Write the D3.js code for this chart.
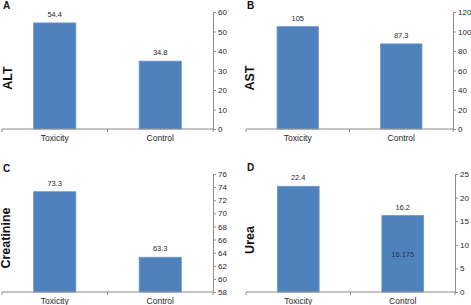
<!DOCTYPE html>
<html>
<head>
<meta charset="utf-8">
<script src="https://cdn.jsdelivr.net/npm/d3@7"></script>
<style>
  body { margin: 0; background: #fff; }
  svg { display: block; font-family: "Liberation Sans", Arial, sans-serif; }
</style>
</head>
<body>
<div id="chart"></div>
<script>
// data
const categories = ["Toxicity", "Control"];
const panelLetters = ["A", "B", "C", "D"];
const panelTitles = ["ALT", "AST", "Creatinine", "Urea"];
const altValues = [54.4, 34.8];
const astValues = [105, 87.3];
const creatinineValues = [73.3, 63.3];
const ureaValues = [22.4, 16.2];
const yDomains = [[0, 60], [0, 120], [58, 76], [0, 25]];
const yTickSteps = [10, 20, 2, 5];
const extraLabel = { panel: 3, category: "Control", value: 16.175, text: "16.175" };

const width = 471, height = 305;
const color = "#4f81bd";
const axisColor = "#8c8c8c";
const textColor = "#262626";

// panel boxes: left of x axis, right axis position, top tick, bottom axis
const boxes = [
  { x0: 2, x1: 213, top: 12, bottom: 129, lx: 3, ly: 9, tx: 12, ty: 78 },
  { x0: 246, x1: 453, top: 12, bottom: 129, lx: 247, ly: 9, tx: 254, ty: 78 },
  { x0: 2, x1: 213, top: 174, bottom: 292, lx: 3, ly: 172, tx: 10, ty: 238 },
  { x0: 246, x1: 455, top: 174, bottom: 292, lx: 247, ly: 171, tx: 254, ty: 240 }
];
const allValues = [altValues, astValues, creatinineValues, ureaValues];

const svg = d3.select("#chart")
  .append("svg")
  .attr("width", width)
  .attr("height", height);

boxes.forEach((b, i) => {
  const values = allValues[i];
  const data = categories.map((c, j) => ({ cat: c, value: values[j] }));

  const x = d3.scaleBand()
    .domain(categories)
    .range([b.x0, b.x1])
    .paddingInner(0.6)
    .paddingOuter(0.3);

  const y = d3.scaleLinear()
    .domain(yDomains[i])
    .range([b.bottom, b.top]);

  const g = svg.append("g");

  // bars
  g.selectAll("rect")
    .data(data)
    .join("rect")
    .attr("x", d => x(d.cat))
    .attr("y", d => y(d.value))
    .attr("width", x.bandwidth())
    .attr("height", d => y(yDomains[i][0]) - y(d.value))
    .attr("fill", color)
    .attr("stroke", "#6d97c9")
    .attr("stroke-width", 0.8);

  // value labels
  g.selectAll("text.val")
    .data(data)
    .join("text")
    .attr("class", "val")
    .attr("x", d => x(d.cat) + x.bandwidth() / 2)
    .attr("y", d => y(d.value) - 6)
    .attr("text-anchor", "middle")
    .attr("font-size", 7.5)
    .attr("fill", textColor)
    .text(d => d.value);

  // right axis
  const [lo, hi] = yDomains[i];
  const tickVals = d3.range(lo, hi + yTickSteps[i] / 2, yTickSteps[i]);
  const yAxis = g.append("g")
    .attr("transform", `translate(${b.x1},0)`)
    .call(d3.axisRight(y).tickValues(tickVals).tickSize(3).tickSizeOuter(0).tickPadding(2));
  yAxis.select(".domain").attr("stroke", axisColor);
  yAxis.selectAll(".tick line").attr("stroke", axisColor);
  yAxis.selectAll(".tick text")
    .attr("font-size", 8)
    .attr("fill", textColor)
    .attr("font-family", "Liberation Sans, Arial, sans-serif");

  // x axis line with category boundary ticks
  g.append("line")
    .attr("x1", b.x0).attr("x2", b.x1)
    .attr("y1", b.bottom).attr("y2", b.bottom)
    .attr("stroke", axisColor);
  const bounds = d3.range(categories.length + 1).map(k => b.x0 + k * (b.x1 - b.x0) / categories.length);
  g.selectAll("line.xt")
    .data(bounds)
    .join("line")
    .attr("class", "xt")
    .attr("x1", d => d).attr("x2", d => d)
    .attr("y1", b.bottom).attr("y2", b.bottom + 3)
    .attr("stroke", axisColor);

  g.selectAll("text.cat")
    .data(categories)
    .join("text")
    .attr("class", "cat")
    .attr("x", d => x(d) + x.bandwidth() / 2)
    .attr("y", b.bottom + 11.5)
    .attr("text-anchor", "middle")
    .attr("font-size", 8.5)
    .attr("fill", textColor)
    .text(d => d);

  // panel letter
  g.append("text")
    .attr("x", b.lx)
    .attr("y", b.ly)
    .attr("font-size", 10)
    .attr("font-weight", "bold")
    .attr("fill", "#111")
    .text(panelLetters[i]);

  // axis title
  g.append("text")
    .attr("transform", `translate(${b.tx},${b.ty}) rotate(-90)`)
    .attr("text-anchor", "middle")
    .attr("font-size", 12.5)
    .attr("font-weight", "bold")
    .attr("fill", "#111")
    .text(panelTitles[i]);

  // stray label inside bar
  if (extraLabel.panel === i) {
    g.append("text")
      .attr("x", x(extraLabel.category) + x.bandwidth() / 2)
      .attr("y", y(extraLabel.value / 2) + 3)
      .attr("text-anchor", "middle")
      .attr("font-size", 7.5)
      .attr("fill", "#1f3450")
      .text(extraLabel.text);
  }
});
</script>
</body>
</html>
